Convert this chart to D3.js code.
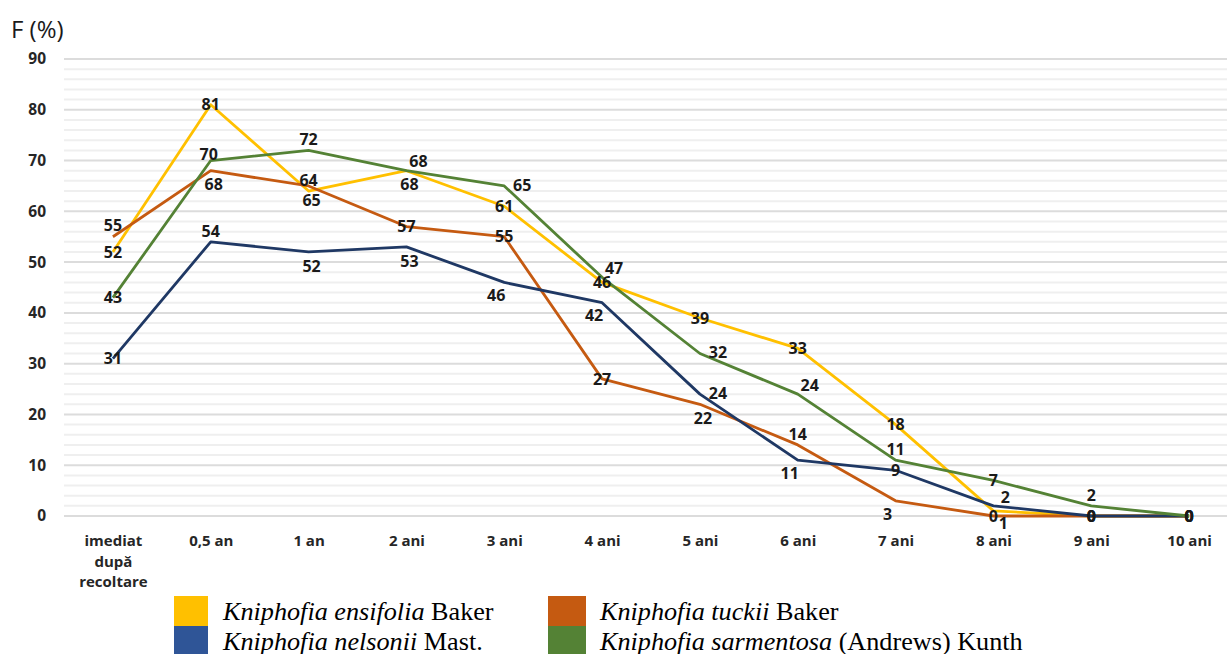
<!DOCTYPE html>
<html>
<head>
<meta charset="utf-8">
<script src="https://cdn.jsdelivr.net/npm/d3@7/dist/d3.min.js"></script>
<style>
  html, body { margin: 0; padding: 0; background: #ffffff; }
  svg { display: block; }
</style>
</head>
<body>
<div id="chart"></div>
<script>
// Germination (%) of Kniphofia seeds after storage periods
const categories = ["imediat după recoltare", "0,5 an", "1 an", "2 ani", "3 ani", "4 ani",
                    "5 ani", "6 ani", "7 ani", "8 ani", "9 ani", "10 ani"];
const yTicks = [0, 10, 20, 30, 40, 50, 60, 70, 80, 90];

const ensifolia  = [52, 81, 64, 68, 61, 46, 39, 33, 18, 1, 0, 0];
const tuckii     = [55, 68, 65, 57, 55, 27, 22, 14, 3, 0, 0, 0];
const nelsonii   = [31, 54, 52, 53, 46, 42, 24, 11, 9, 2, 0, 0];
const sarmentosa = [43, 70, 72, 68, 65, 47, 32, 24, 11, 7, 2, 0];

// where each value label sits relative to its point
const ensifoliaLabelPos  = ["c", "c", "a", "b", "c", "c", "c", "c", "c", "br", "c", "c"];
const tuckiiLabelPos     = ["a", "b", "b", "c", "c", "c", "b", "a", "bl", "c", "c", "c"];
const nelsoniiLabelPos   = ["c", "a", "b", "b", "bl", "bl", "r", "bl", "c", "ar", "c", "c"];
const sarmentosaLabelPos = ["c", "as", "a", "ar", "r", "ar", "r", "ar", "a", "c", "a", "c"];

const series = [
  { name: "ensifolia",  values: ensifolia,  pos: ensifoliaLabelPos,  color: "#FFC000" },
  { name: "tuckii",     values: tuckii,     pos: tuckiiLabelPos,     color: "#C55A11" },
  { name: "nelsonii",   values: nelsonii,   pos: nelsoniiLabelPos,   color: "#1F3864" },
  { name: "sarmentosa", values: sarmentosa, pos: sarmentosaLabelPos, color: "#548235" }
];

const legendItems = [
  { italic: "Kniphofia ensifolia",  plain: " Baker",             color: "#FFC000" },
  { italic: "Kniphofia nelsonii",   plain: " Mast.",             color: "#2F5597" },
  { italic: "Kniphofia tuckii",     plain: " Baker",             color: "#C55A11" },
  { italic: "Kniphofia sarmentosa", plain: " (Andrews) Kunth",   color: "#548235" }
];

const W = 1227, H = 654;
const sans = "'Open Sans', Lato, sans-serif";
const svg = d3.select("#chart").append("svg").attr("width", W).attr("height", H);

const x = d3.scalePoint().domain(categories).range([64, 1238]).padding(0.5);
const y = d3.scaleLinear().domain([0, 90]).range([516, 59]);

// grid: light minor lines every 2, stronger lines every 10
const grid = svg.append("g");
grid.selectAll("line.minor").data(d3.range(2, 90, 2).filter(v => v % 10 !== 0))
  .join("line").attr("class", "minor")
  .attr("x1", 64).attr("x2", W).attr("y1", d => y(d)).attr("y2", d => y(d))
  .attr("stroke", "#efefef").attr("stroke-width", 2);
grid.selectAll("line.major").data(yTicks)
  .join("line").attr("class", "major")
  .attr("x1", 64).attr("x2", W).attr("y1", d => y(d)).attr("y2", d => y(d))
  .attr("stroke", "#dcdcdc").attr("stroke-width", 2);

// y axis labels
const yAxis = d3.axisLeft(y).tickValues(yTicks).tickSize(0).tickPadding(0);
const yg = svg.append("g").attr("transform", "translate(46,0)").call(yAxis);
yg.select(".domain").remove();
yg.selectAll("text")
  .attr("font-family", sans)
  .attr("font-weight", "bold").attr("font-size", 15.5).attr("fill", "#262626");

svg.append("text").attr("x", 11).attr("y", 38)
  .attr("font-family", sans).attr("font-size", 24)
  .attr("fill", "#1a1a1a").text("F (%)");

// x axis labels (wrapped)
const xAxis = d3.axisBottom(x).tickSize(0).tickPadding(0);
const xg = svg.append("g").attr("transform", "translate(0,530)").call(xAxis);
xg.select(".domain").remove();
xg.selectAll("text").each(function (d) {
  const t = d3.select(this);
  t.text(null).attr("dy", null).attr("y", 0)
    .attr("font-family", sans)
    .attr("font-weight", "bold").attr("font-size", 15).attr("fill", "#262626");
  const words = d === categories[0] ? ["imediat", "după", "recoltare"] : [d];
  words.forEach((w, i) => {
    t.append("tspan").attr("x", 0).attr("y", 16 + i * 20.5).text(w);
  });
});

// lines
const line = d3.line().x((d, i) => x(categories[i])).y(d => y(d));
svg.append("g").selectAll("path").data(series).join("path")
  .attr("d", s => line(s.values))
  .attr("fill", "none").attr("stroke", s => s.color)
  .attr("stroke-width", 2.8).attr("stroke-linejoin", "round");

// value labels
const offsets = {
  c: [0, 0], a: [0, -11], as: [-2, -6], b: [3, 14], r: [18, -1], ar: [12, -9],
  br: [10, 12], bl: [-8, 13]
};
const labels = [];
series.forEach(s => s.values.forEach((v, i) => labels.push({ v, i, p: s.pos[i] })));
svg.append("g").selectAll("text").data(labels).join("text")
  .attr("x", d => x(categories[d.i]) + offsets[d.p][0])
  .attr("y", d => y(d.v) + offsets[d.p][1])
  .attr("dy", "0.36em").attr("text-anchor", "middle")
  .attr("font-family", sans)
  .attr("font-weight", "bold").attr("font-size", 16).attr("fill", "#1a1a1a")
  .text(d => d.v);

// legend
const legendPos = [[174, 596], [174, 626], [548, 596], [548, 626]];
const lg = svg.append("g").selectAll("g").data(legendItems).join("g")
  .attr("transform", (d, i) => `translate(${legendPos[i][0]},${legendPos[i][1]})`);
lg.append("rect").attr("width", (d, i) => i < 2 ? 34 : 38).attr("height", 30)
  .attr("fill", d => d.color);
const lt = lg.append("text").attr("x", (d, i) => i < 2 ? 49 : 52).attr("y", 24)
  .attr("font-family", "'Liberation Serif', 'Times New Roman', serif")
  .attr("font-size", 26.2).attr("fill", "#000");
lt.append("tspan").attr("font-style", "italic").text(d => d.italic);
lt.append("tspan").text(d => d.plain);
</script>
</body>
</html>
